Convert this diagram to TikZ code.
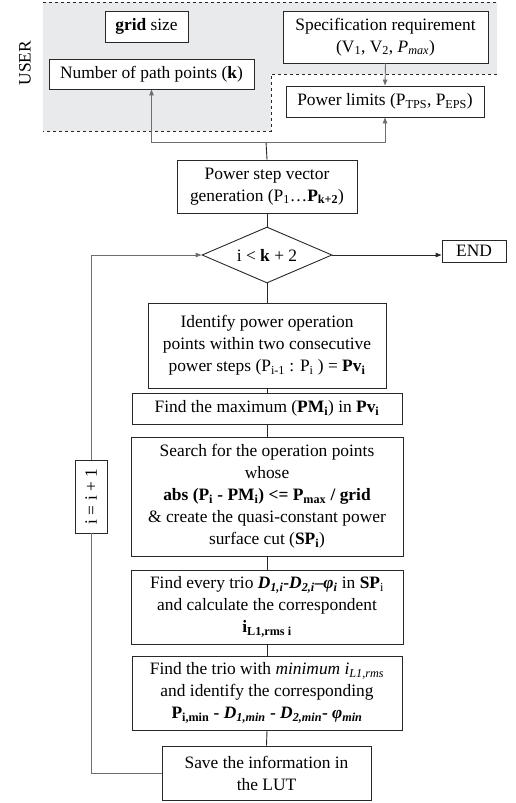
\documentclass[tikz,border=0pt]{standalone}
\usepackage{fontspec}
\setmainfont{Liberation Serif}
\usetikzlibrary{shapes.geometric,arrows.meta,calc}
\definecolor{userbg}{RGB}{233,234,236}
\definecolor{boxline}{RGB}{40,40,40}
\definecolor{wire}{RGB}{110,110,110}
\newcommand\sbs[1]{\textsubscript{#1}}
\begin{document}
\begin{tikzpicture}[x=1pt,y=-1pt,
  every node/.style={font=\fontsize{17.4}{22}\selectfont},
  box/.style={draw=boxline,line width=0.9pt,fill=white,inner sep=0pt,align=center},
  wireline/.style={draw=wire,line width=0.9pt},
  arr/.style={wireline,-{Triangle[length=6pt,width=4.5pt]}},
  flow/.style={draw=boxline,line width=0.9pt}]
\useasboundingbox (0,0) rectangle (516,803);

% user input area
\fill[userbg] (43,2) -- (497,2) -- (497,74) -- (271,74) -- (271,131) -- (43,131) -- cycle;
\draw[boxline,dashed,line width=0.8pt] (43,2) -- (497,2);
\draw[boxline,dashed,line width=0.8pt] (497,74) -- (271,74) -- (271,131) -- (43,131);
\node[rotate=90] (user) at (25,63) {USER};

\node[box,minimum width=83pt,minimum height=31pt] (grid) at (146.5,26.5) {\textbf{grid} size};
\node[box,minimum width=205pt,minimum height=30pt] (npts) at (151.5,74) {Number of path points (\textbf{k})};
\node[box,minimum width=205pt,minimum height=52pt] (spec) at (385.5,37) {Specification requirement\\(V\sbs{1}, V\sbs{2}, \textit{P\sbs{max}})};
\node[box,minimum width=198pt,minimum height=31pt] (plim) at (385,101.5) {Power limits (P\sbs{TPS}, P\sbs{EPS})};

% main flow
\node[box,minimum width=180pt,minimum height=53pt] (pstep) at (267,186.5) {Power step vector\\generation (P\sbs{1}\dots\textbf{P\sbs{k+2}})};
\node[box,shape=diamond,aspect=2.3,minimum width=130pt,minimum height=56pt] (dec) at (267,255) {i < \textbf{k} + 2};
\node[box,minimum width=64pt,minimum height=22pt] (end) at (474,251) {END};
\node[box,minimum width=238pt,minimum height=85pt] (ident) at (267,345.5) {Identify power operation\\points within two consecutive\\power steps (P\sbs{i-1} : P\sbs{i} ) = \textbf{Pv\sbs{i}}};
\node[box,minimum width=270pt,minimum height=31pt] (fmax) at (267,408.5) {Find the maximum (\textbf{PM\sbs{i}}) in \textbf{Pv\sbs{i}}};
\node[box,minimum width=272pt,minimum height=119pt] (search) at (267,496.5) {Search for the operation points\\whose\\\textbf{abs (P\sbs{i} - PM\sbs{i}) <= P\sbs{max} / grid}\\\& create the quasi-constant power\\surface cut (\textbf{SP\sbs{i}})};
\node[box,minimum width=272pt,minimum height=74pt] (trio) at (267,607) {Find every trio \textbf{\textit{D\sbs{1,i}}-\textit{D\sbs{2,i}}–\textit{φ\sbs{i}}} in \textbf{SP}\sbs{i}\\and calculate the correspondent\\\textbf{i\sbs{L1,rms i}}};
\node[box,minimum width=270pt,minimum height=74pt] (tmin) at (267,693) {Find the trio with \textit{minimum i\sbs{L1,rms}}\\and identify the corresponding\\\textbf{P\sbs{i,min} - \textit{D\sbs{1,min}} - \textit{D\sbs{2,min}}- \textit{φ\sbs{min}}}};
\node[box,minimum width=209pt,minimum height=54pt] (save) at (266.5,773) {Save the information in\\the LUT};
\node[box,rotate=90,minimum width=73pt,minimum height=32pt] (inc) at (91,496.5) {i = i + 1};

% connectors
\draw[arr] (spec.south) -- (plim.north);
\coordinate (split) at (266,142);
\draw[flow] (pstep.north) -- (split);
\draw[arr] (split) -| (npts.south);
\draw[arr] (split) -| (plim.south);
\draw[flow] (pstep.south) -- (dec.north);
\draw[flow,-{Triangle[length=6pt,width=4.5pt]}] (dec.east) -- (dec.east -| end.west);
\draw[flow] (dec.south) -- (ident.north);
\draw[flow] (ident.south) -- (fmax.north);
\draw[flow] (fmax.south) -- (search.north);
\draw[flow] (search.south) -- (trio.north);
\draw[flow] (trio.south) -- (tmin.north);
\draw[flow] (tmin.south) -- (save.north);

% loop back to the test
\coordinate (lbot) at (91,773);
\coordinate (ltop) at (91,255);
\draw[wireline] (save.west) -- (lbot) -- (inc.west);
\draw[arr] (inc.east) -- (ltop) -- (dec.west);
\end{tikzpicture}
\end{document}
